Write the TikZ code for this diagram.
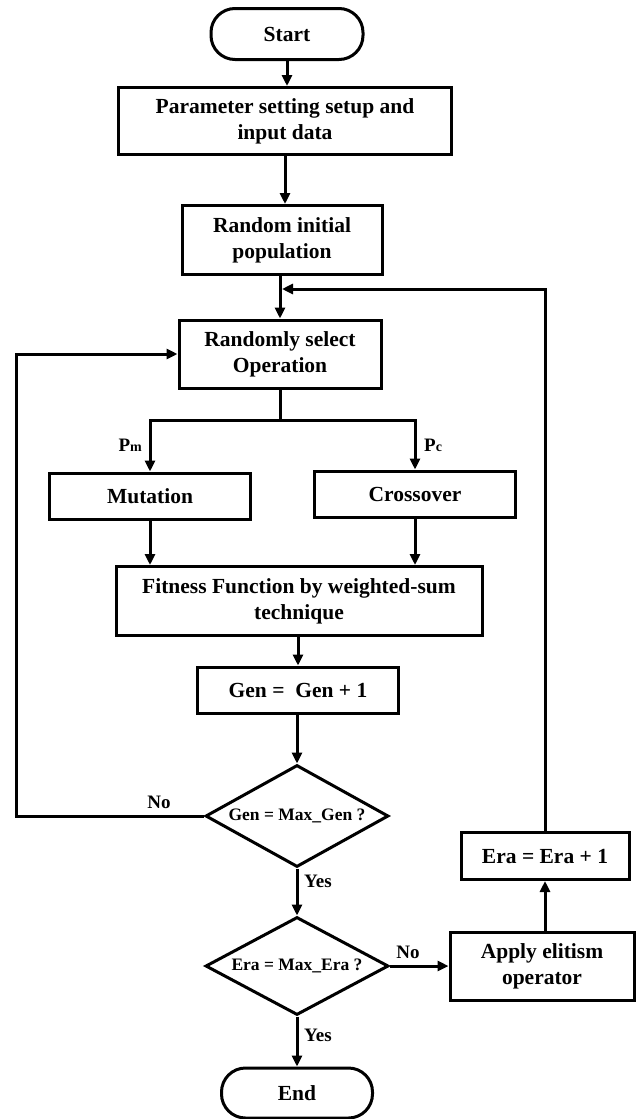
\documentclass[tikz,border=0pt]{standalone}
\usepackage{fontspec}
\setmainfont{Liberation Serif}
\usetikzlibrary{shapes.geometric, arrows.meta, positioning, calc}

\tikzset{
  procbox/.style={draw, line width=3pt, align=center, inner sep=2pt,
    font=\bfseries\fontsize{21.5}{26}\selectfont},
  termbox/.style={procbox, rounded corners=24pt},
  decbox/.style={draw, diamond, line width=3pt, inner sep=0pt,
    font=\bfseries\fontsize{17.5}{20}\selectfont},
  flow/.style={line width=3pt, -{Triangle[length=11pt,width=10pt]}},
  link/.style={line width=3pt},
  lbl/.style={font=\bfseries\fontsize{19}{22}\selectfont, inner sep=1pt}
}

\begin{document}
\begin{tikzpicture}[x=1pt, y=-1pt]
  \useasboundingbox (0,0) rectangle (637,1119);

  % Main column
  \node[termbox, minimum width=152pt, minimum height=51pt] (start) at (287,34) {Start};
  \node[procbox, minimum width=333pt, minimum height=67pt] (param) at (285,121) {Parameter setting setup and\\input data};
  \node[procbox, minimum width=200pt, minimum height=69pt] (init) at (282,240) {Random initial\\population};
  \node[procbox, minimum width=202pt, minimum height=68pt] (select) at (280,354) {Randomly select\\Operation};

  % Operators
  \node[procbox, minimum width=201pt, minimum height=46pt] (mut) at (150,496) {Mutation};
  \node[procbox, minimum width=201pt, minimum height=46pt] (cross) at (415,494) {Crossover};

  \node[procbox, minimum width=366pt, minimum height=69pt] (fit) at (299,601) {Fitness Function by weighted-sum\\technique};
  \node[procbox, minimum width=201pt, minimum height=46pt] (gen) at (298,690) {Gen =\ \ Gen + 1};

  % Decisions
  \node[decbox, minimum width=183pt, minimum height=102pt] (dgen) at (297,816) {\makebox[0pt]{Gen = Max\_Gen ?}};
  \node[decbox, minimum width=183pt, minimum height=98pt] (dera) at (297,966) {\makebox[0pt]{Era = Max\_Era ?}};

  % Elitism branch
  \node[procbox, minimum width=184pt, minimum height=68pt] (elit) at (542,966) {Apply elitism\\operator};
  \node[procbox, minimum width=168pt, minimum height=47pt] (eraup) at (545,856) {Era = Era + 1};

  \node[termbox, minimum width=151pt, minimum height=50pt] (end) at (297,1093) {End};

  % Connectors
  \coordinate (ret) at (282,289);
  \coordinate (fork) at (280,420);
  \coordinate (loopL) at (16,816);

  \draw[flow] (start) -- (start |- param.north);
  \draw[flow] (param) -- (param |- init.north);
  \draw[flow] (init.south -| select.north) -- (select.north);
  \draw[flow] (eraup.north) |- (ret);

  \draw[link] (select) -- (fork);
  \draw[flow] (fork) -| (mut.north);
  \draw[flow] (fork) -| (cross.north);
  \node[lbl, anchor=east] (pm) at (143,445) {P{\fontsize{14}{15}\selectfont m}};
  \node[lbl, anchor=west] (pc) at (423,445) {P{\fontsize{14}{15}\selectfont c}};

  \draw[flow] (mut) -- (mut |- fit.north);
  \draw[flow] (cross) -- (cross |- fit.north);
  \draw[flow] (fit.south -| gen.north) -- (gen.north);
  \draw[flow] (gen.south -| dgen.north) -- (dgen.north);

  \draw[flow] (dgen.west) -- (loopL) |- (select.west);
  \node[lbl] (nogen) at (159,802) {No};
  \draw[flow] (dgen.south) -- (dera.north);
  \node[lbl, anchor=west] (yesgen) at (303,881) {Yes};

  \draw[flow] (dera.east) -- (elit.west);
  \node[lbl] (noera) at (408,952) {No};
  \draw[flow] (elit.north -| eraup.south) -- (eraup.south);
  \draw[flow] (dera.south) -- (end.north);
  \node[lbl, anchor=west] (yesera) at (303,1035) {Yes};
\end{tikzpicture}
\end{document}
